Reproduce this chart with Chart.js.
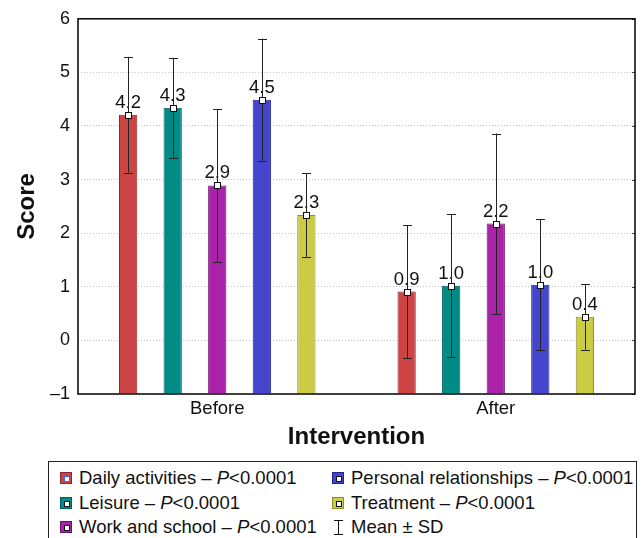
<!DOCTYPE html>
<html>
<head>
<meta charset="utf-8">
<script src="https://cdn.jsdelivr.net/npm/chart.js@4.4.1/dist/chart.umd.min.js"></script>
<style>
  body { margin: 0; background: #fff; font-family: "Liberation Sans", Arial, sans-serif; }
  #wrap { position: relative; width: 644px; height: 538px; overflow: hidden; }
  #chart { position: absolute; left: 0; top: 0; }
  #legend { position: absolute; left: 48px; top: 461px; width: 589px; height: 100px;
    border: 1px solid #222; box-sizing: border-box; }
  .item { position: absolute; height: 20px; line-height: 20px; font-size: 18.5px; color: #111; white-space: nowrap; }
  .item .sw { position: absolute; left: 0; top: 4px; width: 12px; height: 12px; box-sizing: border-box; border: 1px solid #333; }
  .item .sw i { position: absolute; left: 3px; top: 3px; width: 6px; height: 6px; box-sizing: border-box; background: #fff; border: 1px solid #111; }
  .item .tx { position: absolute; left: 19px; top: 0; }
  .item em { font-style: italic; }
  .sdsym { position: absolute; left: 2px; top: 3px; width: 9px; height: 15px; }
</style>
</head>
<body>
<div id="wrap">
  <canvas id="chart" width="644" height="455"></canvas>
  <div id="legend"></div>
</div>
<script>
const categories = ['Before', 'After'];
const seriesNames = ['Daily activities', 'Leisure', 'Work and school', 'Personal relationships', 'Treatment'];
const pValues = ['<0.0001', '<0.0001', '<0.0001', '<0.0001', '<0.0001'];

const dailyMean = [4.21, 0.91];
const dailySd = [1.08, 1.24];
const leisureMean = [4.34, 1.02];
const leisureSd = [0.93, 1.33];
const workMean = [2.89, 2.18];
const workSd = [1.42, 1.68];
const personalMean = [4.49, 1.04];
const personalSd = [1.14, 1.22];
const treatmentMean = [2.34, 0.44];
const treatmentSd = [0.78, 0.61];

const yTicks = [-1, 0, 1, 2, 3, 4, 5, 6];

const fills = ['#CC4444', '#008B87', '#AA22AA', '#4444CC', '#CCCC44'];
const borders = ['#8a2a2a', '#005c59', '#6a106a', '#22228c', '#8f8f2a'];

const means = [dailyMean, leisureMean, workMean, personalMean, treatmentMean];
const sds = [dailySd, leisureSd, workSd, personalSd, treatmentSd];

const FONT = '"Liberation Sans", Arial, sans-serif';

// error bars, mean markers, value labels and the frame
const overlay = {
  id: 'overlay',
  afterDatasetsDraw(chart) {
    const ctx = chart.ctx;
    const y = chart.scales.y;
    const area = chart.chartArea;
    ctx.save();
    for (let i = 0; i < means.length; i++) {
      const meta = chart.getDatasetMeta(i);
      meta.data.forEach((bar, j) => {
        const m = means[i][j], s = sds[i][j];
        const x = bar.x;
        const top = y.getPixelForValue(m + s);
        const bot = y.getPixelForValue(m - s);
        // label
        ctx.fillStyle = '#111';
        ctx.font = '18.5px ' + FONT;
        ctx.textAlign = 'center';
        ctx.textBaseline = 'alphabetic';
        ctx.fillText(m.toFixed(1), x, bar.y - 7);
        // error bar
        ctx.strokeStyle = '#222';
        ctx.lineWidth = 1;
        ctx.beginPath();
        ctx.moveTo(Math.round(x) + 0.5, top);
        ctx.lineTo(Math.round(x) + 0.5, bot);
        ctx.moveTo(Math.round(x) - 4, Math.round(top) + 0.5);
        ctx.lineTo(Math.round(x) + 5, Math.round(top) + 0.5);
        ctx.moveTo(Math.round(x) - 4, Math.round(bot) + 0.5);
        ctx.lineTo(Math.round(x) + 5, Math.round(bot) + 0.5);
        ctx.stroke();
        // mean marker
        const my = y.getPixelForValue(m);
        ctx.fillStyle = '#fff';
        ctx.fillRect(Math.round(x) - 3, Math.round(my) - 3, 7, 7);
        ctx.strokeStyle = '#111';
        ctx.strokeRect(Math.round(x) - 2.5, Math.round(my) - 2.5, 6, 6);
      });
    }
    // inner ticks on the right border
    ctx.strokeStyle = '#444';
    ctx.beginPath();
    yTicks.forEach(v => {
      const py = Math.round(y.getPixelForValue(v)) + 0.5;
      ctx.moveTo(area.right - 3, py);
      ctx.lineTo(area.right, py);
    });
    ctx.stroke();
    ctx.strokeStyle = '#000';
    ctx.lineWidth = 1.5;
    ctx.strokeRect(area.left, area.top, area.right - area.left, area.bottom - area.top);
    ctx.restore();
  }
};

const datasets = seriesNames.map((name, i) => ({
  label: name,
  data: means[i],
  base: -1,
  backgroundColor: fills[i],
  borderColor: borders[i],
  borderWidth: 1,
  borderSkipped: 'bottom',
  categoryPercentage: 0.8,
  barPercentage: 0.41
}));

new Chart(document.getElementById('chart'), {
  type: 'bar',
  data: { labels: categories, datasets: datasets },
  plugins: [overlay],
  options: {
    responsive: false,
    animation: false,
    events: [],
    layout: { padding: { left: 0, right: 9, top: 18, bottom: 0 } },
    plugins: { legend: { display: false }, tooltip: { enabled: false } },
    scales: {
      x: {
        grid: { display: false, drawTicks: false },
        border: { display: false },
        ticks: { color: '#111', font: { family: FONT, size: 18.5 }, padding: 4 },
        title: { display: true, text: 'Intervention', color: '#111',
          font: { family: FONT, size: 24, weight: 'bold' }, padding: { top: 0, bottom: 3 } },
        afterFit: s => { s.height = 61; }
      },
      y: {
        min: -1,
        max: 6,
        ticks: { stepSize: 1, color: '#111', font: { family: FONT, size: 18 }, padding: 8,
          callback: v => v < 0 ? '\u2013' + Math.abs(v) : String(v) },
        grid: {
          drawTicks: false,
          color: c => (c.tick.value === -1 || c.tick.value === 6) ? 'rgba(0,0,0,0)' : '#c4c4c4',
          tickBorderDash: [1, 2]
        },
        border: { display: false, dash: [1, 2] },
        title: { display: true, text: 'Score', color: '#111',
          font: { family: FONT, size: 24, weight: 'bold' }, padding: { top: 13, bottom: 0 } },
        afterFit: s => { s.width = 78; }
      }
    }
  }
});

// legend
const legend = document.getElementById('legend');
const slots = [[11, 6], [11, 31], [11, 55], [283, 6], [283, 31]];
seriesNames.forEach((name, i) => {
  const d = document.createElement('div');
  d.className = 'item';
  d.style.left = slots[i][0] + 'px';
  d.style.top = slots[i][1] + 'px';
  const inner = i === 0 ? '<i style="border-color:#4466ff"></i>' : '<i></i>';
  d.innerHTML = '<span class="sw" style="background:' + fills[i] + ';border-color:' + borders[i] + '">' + inner +
    '</span><span class="tx">' + name + ' \u2013 <em>P</em>' + pValues[i].replace('<', '&lt;') + '</span>';
  legend.appendChild(d);
});
const sd = document.createElement('div');
sd.className = 'item';
sd.style.left = '283px';
sd.style.top = '55px';
sd.innerHTML = '<svg class="sdsym" viewBox="0 0 9 15"><path d="M0 0.5H9M4.5 0.5V14.5M0 14.5H9" stroke="#111" stroke-width="1" fill="none"/></svg>' +
  '<span class="tx">Mean \u00b1 SD</span>';
legend.appendChild(sd);
</script>
</body>
</html>
